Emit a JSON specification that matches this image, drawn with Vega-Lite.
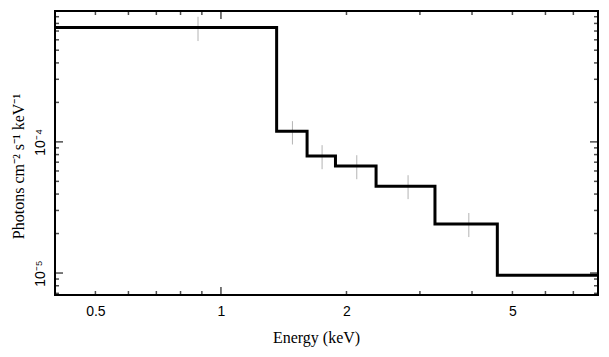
{
  "$schema": "https://vega.github.io/schema/vega-lite/v6.json",
  "width": 543,
  "height": 284,
  "autosize": "none",
  "padding": {"left": 55, "top": 11, "right": 11, "bottom": 62},
  "background": "white",
  "config": {
    "view": {"stroke": "black", "strokeWidth": 2},
    "axis": {
      "grid": false,
      "domain": false,
      "ticks": false,
      "labelFont": "Liberation Sans",
      "labelFontSize": 14,
      "labelColor": "black",
      "titleFont": "Liberation Serif",
      "titleFontSize": 16,
      "titleFontWeight": "normal",
      "titleColor": "black"
    }
  },
  "datasets": {
    "model": [
      {"e": 0.4, "f": 7.46e-4},
      {"e": 1.36, "f": 1.207e-4},
      {"e": 1.609, "f": 7.82e-5},
      {"e": 1.882, "f": 6.56e-5},
      {"e": 2.355, "f": 4.59e-5},
      {"e": 3.26, "f": 2.37e-5},
      {"e": 4.6, "f": 9.6e-6},
      {"e": 8.02, "f": 9.6e-6}
    ],
    "pts": [
      {"e": 0.881, "lo": 5.87e-4, "hi": 8.99e-4},
      {"e": 1.484, "lo": 9.55e-5, "hi": 1.439e-4},
      {"e": 1.748, "lo": 6.19e-5, "hi": 9.44e-5},
      {"e": 2.117, "lo": 5.19e-5, "hi": 7.91e-5},
      {"e": 2.81, "lo": 3.66e-5, "hi": 5.57e-5},
      {"e": 3.93, "lo": 1.88e-5, "hi": 2.87e-5}
    ],
    "xticks": [
      {"v": 0.5, "k": "minor"}, {"v": 0.6, "k": "minor"}, {"v": 0.7, "k": "minor"},
      {"v": 0.8, "k": "minor"}, {"v": 0.9, "k": "minor"}, {"v": 1, "k": "major"},
      {"v": 2, "k": "minor"}, {"v": 3, "k": "minor"}, {"v": 4, "k": "minor"},
      {"v": 5, "k": "minor"}, {"v": 6, "k": "minor"}, {"v": 7, "k": "minor"}
    ],
    "yticks": [
      {"v": 7e-6, "k": "minor"}, {"v": 8e-6, "k": "minor"}, {"v": 9e-6, "k": "minor"},
      {"v": 1e-5, "k": "major"},
      {"v": 2e-5, "k": "minor"}, {"v": 3e-5, "k": "minor"}, {"v": 4e-5, "k": "minor"},
      {"v": 5e-5, "k": "minor"}, {"v": 6e-5, "k": "minor"}, {"v": 7e-5, "k": "minor"},
      {"v": 8e-5, "k": "minor"}, {"v": 9e-5, "k": "minor"},
      {"v": 1e-4, "k": "major"},
      {"v": 2e-4, "k": "minor"}, {"v": 3e-4, "k": "minor"}, {"v": 4e-4, "k": "minor"},
      {"v": 5e-4, "k": "minor"}, {"v": 6e-4, "k": "minor"}, {"v": 7e-4, "k": "minor"},
      {"v": 8e-4, "k": "minor"}, {"v": 9e-4, "k": "minor"}
    ]
  },
  "resolve": {"axis": {"x": "independent", "y": "independent"}},
  "layer": [
    {
      "data": {"name": "pts"},
      "mark": {"type": "rule", "color": "#b4b4b4", "strokeWidth": 1, "clip": true},
      "encoding": {
        "x": {"field": "e", "type": "quantitative", "scale": {"type": "log", "domain": [0.4, 8.02], "nice": false}, "axis": null},
        "y": {"field": "lo", "type": "quantitative", "scale": {"type": "log", "domain": [6.8e-6, 9.95e-4], "nice": false}, "axis": null},
        "y2": {"field": "hi"}
      }
    },
    {
      "data": {"name": "xticks"},
      "mark": {"type": "tick", "orient": "vertical", "color": "black", "thickness": 1.5, "clip": true},
      "encoding": {
        "x": {"field": "v", "type": "quantitative", "axis": null},
        "y": {"datum": 6.8e-6, "type": "quantitative", "axis": null},
        "size": {"field": "k", "type": "ordinal", "scale": {"domain": ["major", "minor"], "range": [16, 8]}, "legend": null}
      }
    },
    {
      "data": {"name": "xticks"},
      "mark": {"type": "tick", "orient": "vertical", "color": "black", "thickness": 1.5, "clip": true},
      "encoding": {
        "x": {"field": "v", "type": "quantitative", "axis": null},
        "y": {"datum": 9.95e-4, "type": "quantitative", "axis": null},
        "size": {"field": "k", "type": "ordinal", "scale": {"domain": ["major", "minor"], "range": [16, 8]}, "legend": null}
      }
    },
    {
      "data": {"name": "yticks"},
      "mark": {"type": "tick", "orient": "horizontal", "color": "black", "thickness": 1.5, "clip": true},
      "encoding": {
        "y": {"field": "v", "type": "quantitative", "axis": null},
        "x": {"datum": 0.4, "type": "quantitative", "axis": null},
        "size": {"field": "k", "type": "ordinal", "scale": {"domain": ["major", "minor"], "range": [16, 8]}, "legend": null}
      }
    },
    {
      "data": {"name": "yticks"},
      "mark": {"type": "tick", "orient": "horizontal", "color": "black", "thickness": 1.5, "clip": true},
      "encoding": {
        "y": {"field": "v", "type": "quantitative", "axis": null},
        "x": {"datum": 8.02, "type": "quantitative", "axis": null},
        "size": {"field": "k", "type": "ordinal", "scale": {"domain": ["major", "minor"], "range": [16, 8]}, "legend": null}
      }
    },
    {
      "data": {"name": "model"},
      "mark": {"type": "line", "interpolate": "step-after", "color": "black", "strokeWidth": 3, "clip": true},
      "encoding": {
        "x": {"field": "e", "type": "quantitative", "scale": {"type": "log", "domain": [0.4, 8.02], "nice": false},
              "axis": {"orient": "bottom", "values": [0.5, 1, 2, 5], "format": "~g", "ticks": false, "labelPadding": 9,
                       "title": "Energy (keV)", "titleX": 261, "titleY": 42, "titleBaseline": "middle", "titleAlign": "center"}},
        "y": {"field": "f", "type": "quantitative", "scale": {"type": "log", "domain": [6.8e-6, 9.95e-4], "nice": false},
              "axis": {"orient": "left", "values": [1e-5, 1e-4], "labelExpr": "datum.value < 3e-5 ? '10⁻⁵' : '10⁻⁴'", "ticks": false,
                       "labelAngle": 270, "labelAlign": "center", "labelBaseline": "bottom", "labelPadding": 8,
                       "title": "Photons cm⁻² s⁻¹ keV⁻¹", "titleAngle": 270, "titleX": -37, "titleY": 155,
                       "titleAlign": "center", "titleBaseline": "middle"}}
      }
    }
  ]
}
